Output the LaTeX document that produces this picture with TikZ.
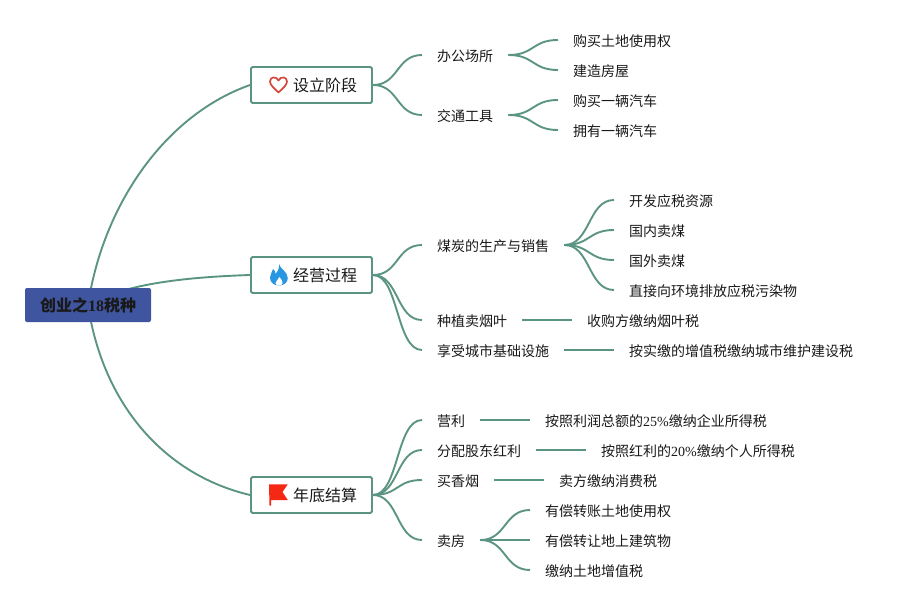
\documentclass[tikz,border=0pt]{standalone}
\usepackage{fontspec}
\setmainfont{Noto Sans CJK SC}
\newfontfamily\serifl{Liberation Serif}
\usetikzlibrary{backgrounds}
\definecolor{linecol}{RGB}{91,148,131}
\definecolor{rootfill}{RGB}{63,85,160}
\definecolor{txt}{RGB}{25,25,25}
\definecolor{heartred}{RGB}{214,72,60}
\definecolor{flameblue}{RGB}{40,150,225}
\definecolor{flagred}{RGB}{245,40,20}
\tikzset{
  conn/.style={draw=linecol,line width=1.9pt},
  leaf/.style={inner xsep=15pt,inner ysep=0pt,text height=13pt,text depth=0.4pt,font=\fontsize{14pt}{14pt}\selectfont,text=txt,anchor=west},
  topicbox/.style={draw=linecol,line width=1.9pt,fill=white,rounded corners=1.5pt,minimum width=121pt,minimum height=36pt,inner sep=0pt,font=\fontsize{16pt}{16pt}\selectfont,text=txt},
  rootbox/.style={fill=rootfill,rounded corners=2pt,minimum width=126pt,minimum height=34pt,inner sep=0pt,font=\fontsize{16pt}{16pt}\bfseries\selectfont,text=black!90},
}
\newcommand{\branch}[2]{\path[conn] (#1.east) .. controls +(26pt,0pt) and +(-26pt,0pt) .. (#2.west);}
\newcommand{\straight}[2]{\path[conn] (#1.east) -- (#2.west);}
\newcommand{\lat}[1]{{\serifl #1}}
\begin{document}
\begin{tikzpicture}[x=1pt,y=-1pt]
\useasboundingbox (0,0) rectangle (913,610);
\node[rootbox] (root) at (88,305) {创业之{\serifl\bfseries 18}税种};
\node[topicbox] (t1) at (311.5,85) {\hspace*{27pt}设立阶段};
\node[topicbox] (t2) at (311.5,275) {\hspace*{27pt}经营过程};
\node[topicbox] (t3) at (311.5,495) {\hspace*{27pt}年底结算};
% level 2
\node[leaf] (a1) at (422,55) {办公场所};
\node[leaf] (a2) at (422,115) {交通工具};
\node[leaf] (b1) at (422,245) {煤炭的生产与销售};
\node[leaf] (b2) at (422,320) {种植卖烟叶};
\node[leaf] (b3) at (422,350) {享受城市基础设施};
\node[leaf] (c1) at (422,420) {营利};
\node[leaf] (c2) at (422,450) {分配股东红利};
\node[leaf] (c3) at (422,480) {买香烟};
\node[leaf] (c4) at (422,540) {卖房};
% level 3
\node[leaf] (a11) at (558,40) {购买土地使用权};
\node[leaf] (a12) at (558,70) {建造房屋};
\node[leaf] (a21) at (558,100) {购买一辆汽车};
\node[leaf] (a22) at (558,130) {拥有一辆汽车};
\node[leaf] (b11) at (614,200) {开发应税资源};
\node[leaf] (b12) at (614,230) {国内卖煤};
\node[leaf] (b13) at (614,260) {国外卖煤};
\node[leaf] (b14) at (614,290) {直接向环境排放应税污染物};
\node[leaf] (b21) at (572,320) {收购方缴纳烟叶税};
\node[leaf] (b31) at (614,350) {按实缴的增值税缴纳城市维护建设税};
\node[leaf] (c11) at (530,420) {按照利润总额的\lat{25\%}缴纳企业所得税};
\node[leaf] (c21) at (586,450) {按照红利的\lat{20\%}缴纳个人所得税};
\node[leaf] (c31) at (544,480) {卖方缴纳消费税};
\node[leaf] (c41) at (530,510) {有偿转账土地使用权};
\node[leaf] (c42) at (530,540) {有偿转让地上建筑物};
\node[leaf] (c43) at (530,570) {缴纳土地增值税};
\begin{scope}[on background layer]
\path[conn] (root.center) .. controls (103,205) and (165,115) .. (t1.west);
\path[conn] (root.center) .. controls (125,283) and (190,277) .. (t2.west);
\path[conn] (root.center) .. controls (103,405) and (165,475) .. (t3.west);
\branch{t1}{a1}\branch{t1}{a2}
\branch{t2}{b1}\branch{t2}{b2}\branch{t2}{b3}
\branch{t3}{c1}\branch{t3}{c2}\branch{t3}{c3}\branch{t3}{c4}
\branch{a1}{a11}\branch{a1}{a12}
\branch{a2}{a21}\branch{a2}{a22}
\branch{b1}{b11}\branch{b1}{b12}\branch{b1}{b13}\branch{b1}{b14}
\straight{b2}{b21}\straight{b3}{b31}
\straight{c1}{c11}\straight{c2}{c21}\straight{c3}{c31}
\branch{c4}{c41}\branch{c4}{c42}\branch{c4}{c43}
\end{scope}
% heart
\draw[heartred,line width=1.7pt,line join=round] (278.5,92.5) .. controls (274,88) and (270,85) .. (270,81.5)
  .. controls (270,76.5) and (276.5,76) .. (278.5,80.5) .. controls (280.5,76) and (287,76.5) .. (287,81.5)
  .. controls (287,85) and (283,88) .. (278.5,92.5) -- cycle;
% flame
\fill[flameblue] (279,264) .. controls (279.5,268) and (287.8,272) .. (287.8,278)
  .. controls (287.8,283) and (283.5,285.5) .. (279,285.5)
  .. controls (274.5,285.5) and (270,283) .. (270,277.5)
  .. controls (270,274) and (272.5,272) .. (273,269) .. controls (275,270.5) and (275.5,272) .. (275.5,274)
  .. controls (278,271) and (279.5,268) .. (279,264) -- cycle;
\fill[white] (279.5,277) .. controls (281,279.5) and (283,281) .. (282.6,283)
  .. controls (282.2,284.7) and (281,285.5) .. (279,285.5)
  .. controls (277,285.5) and (275.8,284.7) .. (275.5,283)
  .. controls (275.3,281) and (278.5,280) .. (279.5,277) -- cycle;
% flag
\fill[flagred] (269,484.3) -- (287.8,484.3) -- (282.5,492) -- (287.8,500) -- (271,500) -- (271,505.5) -- (269.5,505.5) -- cycle;
\end{tikzpicture}
\end{document}
